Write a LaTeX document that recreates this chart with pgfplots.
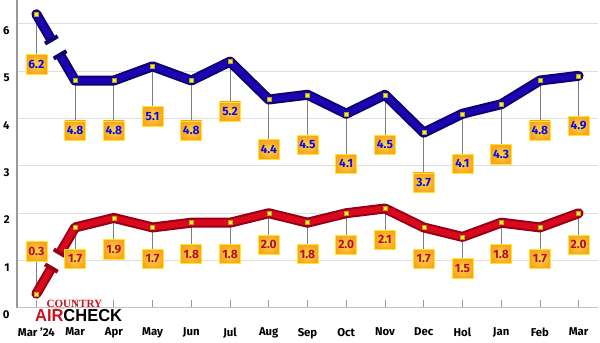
\documentclass[border=0pt]{standalone}
\usepackage{pgfplots}
\pgfplotsset{compat=1.18}
\usepackage{pgfplotstable}
\usepackage{fontspec}
\setmainfont{Fira Sans}
\newfontfamily\logofont{Liberation Sans}
\newfontfamily\logoserif{Liberation Serif}
\usetikzlibrary{calc}
\definecolor{navy}{RGB}{28,4,180}
\definecolor{navydark}{RGB}{14,2,110}
\definecolor{redl}{RGB}{218,8,28}
\definecolor{redd}{RGB}{150,0,22}
\definecolor{boxout}{RGB}{250,165,30}
\definecolor{boxin}{RGB}{255,215,75}
\definecolor{boxborder}{RGB}{255,230,40}
\definecolor{txtblue}{RGB}{10,10,235}
\definecolor{txtred}{RGB}{175,15,45}
\definecolor{gridc}{RGB}{222,222,222}
\definecolor{logored}{RGB}{200,20,30}

\pgfplotstableread{
x blue red
0 6.2 0.3
1 4.8 1.7
2 4.8 1.9
3 5.1 1.7
4 4.8 1.8
5 5.2 1.8
6 4.4 2.0
7 4.5 1.8
8 4.1 2.0
9 4.5 2.1
10 3.7 1.7
11 4.1 1.5
12 4.3 1.8
13 4.8 1.7
14 4.9 2.0
}\data

\tikzset{
  valbox/.style={anchor=center, inner sep=0pt, minimum width=15.75pt, minimum height=14.5pt,
    draw=boxborder, line width=0.5pt, inner color=boxin, outer color=boxout,
    font=\bfseries\fontsize{9}{10}\selectfont},
}

\begin{document}
\begin{tikzpicture}
\begin{axis}[
  name=ax,
  scale only axis,
  width=435.75pt, height=231pt,
  xmin=-0.5, xmax=14.5, ymin=0, ymax=6.5,
  /pgf/number format/assume math mode=true,
  axis lines=left,
  x axis line style={-, draw=gridc!70!gray, line width=0.75pt},
  y axis line style={-, draw=gray!80, line width=1.1pt},
  xtick={0,...,14},
  xticklabels={Mar '24, Mar, Apr, May, Jun, Jul, Aug, Sep, Oct, Nov, Dec, Hol, Jan, Feb, Mar},
  xtick align=inside,
  major tick length=6pt,
  x tick style={draw=gray!80, line width=0.6pt},
  ytick={0,...,6},
  y tick style={draw=none},
  ymajorgrids,
  grid style={draw=gridc, line width=0.75pt},
  ticklabel style={font=\bfseries\fontsize{8.5}{10}\selectfont, text=black},
  xticklabel style={yshift=-11.5pt},
  yticklabel style={yshift=-5pt, xshift=1pt},
  clip=false,
]
% leader lines (gray)
\addplot[draw=none, mark=none, forget plot, error bars/.cd, y dir=minus, y fixed=1.0, error mark=none, error bar style={draw=gray, line width=0.6pt}] table[x=x, y=blue] {\data};
\addplot[draw=none, mark=none, forget plot, skip coords between index={0}{1}, error bars/.cd, y dir=minus, y fixed=0.6, error mark=none, error bar style={draw=gray, line width=0.6pt}] table[x=x, y=red] {\data};
\addplot[draw=none, mark=none, forget plot, error bars/.cd, y dir=plus, y fixed=0.8, error mark=none, error bar style={draw=gray, line width=0.6pt}] coordinates {(0,0.3)};

% blue line
\addplot[navydark, line width=7.5pt, line cap=round, line join=round, mark=none] table[x=x, y=blue] {\data};
\addplot[navy, line width=4.5pt, line cap=round, line join=round, mark=none] table[x=x, y=blue] {\data};
% red line
\addplot[redd, line width=7.5pt, line cap=round, line join=round, mark=none] table[x=x, y=red] {\data};
\addplot[redl, line width=4.5pt, line cap=round, line join=round, mark=none] table[x=x, y=red] {\data};

% breaks on first segments
\coordinate (A1) at (axis cs:0,6.2);
\coordinate (B1) at (axis cs:1,4.8);
\coordinate (M1) at ($(A1)!0.5!(B1)$);
\draw[white, line width=9.5pt] ($(M1)!5pt!(A1)$) -- ($(M1)!5pt!(B1)$);
\coordinate (P1) at ($(M1)!6.5pt!(A1)$);
\coordinate (Q1) at ($(M1)!6.5pt!(B1)$);
\draw[navydark, line width=3pt] ($(P1)!5.5pt!90:(A1)$) -- ($(P1)!5.5pt!-90:(A1)$);
\draw[navydark, line width=3pt] ($(Q1)!5.5pt!90:(B1)$) -- ($(Q1)!5.5pt!-90:(B1)$);

\coordinate (A2) at (axis cs:0,0.3);
\coordinate (B2) at (axis cs:1,1.7);
\coordinate (M2) at ($(A2)!0.5!(B2)$);
\draw[white, line width=9.5pt] ($(M2)!5pt!(A2)$) -- ($(M2)!5pt!(B2)$);
\coordinate (P2) at ($(M2)!6.5pt!(A2)$);
\coordinate (Q2) at ($(M2)!6.5pt!(B2)$);
\draw[redd, line width=3pt] ($(P2)!5.5pt!90:(A2)$) -- ($(P2)!5.5pt!-90:(A2)$);
\draw[redd, line width=3pt] ($(Q2)!5.5pt!90:(B2)$) -- ($(Q2)!5.5pt!-90:(B2)$);

% markers
\addplot[only marks, mark=square*, mark size=1.5pt, mark options={fill=yellow, draw=yellow!60!black, line width=0.3pt}] table[x=x, y=blue] {\data};
\addplot[only marks, mark=square*, mark size=1.5pt, mark options={fill=yellow, draw=yellow!60!black, line width=0.3pt}] table[x=x, y=red] {\data};

% value boxes
\addplot[only marks, mark=none, nodes near coords={\pgfmathprintnumber[fixed, fixed zerofill, precision=1]{\pgfplotspointmeta}},
  every node near coord/.style={valbox, text=txtblue, yshift=-37.5pt}] table[x=x, y=blue] {\data};
\addplot[only marks, mark=none, skip coords between index={0}{1}, nodes near coords={\pgfmathprintnumber[fixed, fixed zerofill, precision=1]{\pgfplotspointmeta}},
  every node near coord/.style={valbox, text=txtred, yshift=-23.6pt}] table[x=x, y=red] {\data};
\addplot[only marks, mark=none, nodes near coords={\pgfmathprintnumber[fixed, fixed zerofill, precision=1]{\pgfplotspointmeta}},
  every node near coord/.style={valbox, text=txtred, yshift=31.9pt}] coordinates {(0,0.3)};

% logo
\draw[gray!60, line width=0.5pt] ([yshift=-5.8pt]axis cs:0.6,0) ++(35:1.8pt) arc[start angle=35, end angle=145, radius=1.8pt];
\draw[gray!60, line width=0.5pt] ([yshift=-5.8pt]axis cs:0.6,0) ++(35:4pt) arc[start angle=35, end angle=145, radius=4pt];
\draw[gray!60, line width=0.5pt] ([yshift=-5.8pt]axis cs:0.6,0) ++(35:6.2pt) arc[start angle=35, end angle=145, radius=6.2pt];
\fill[white] ([xshift=-35pt, yshift=-11pt]axis cs:1.09,0) rectangle ([xshift=35pt, yshift=-0.5pt]axis cs:1.09,0);
\node[anchor=center, inner sep=0pt, text=logored, font=\logoserif\bfseries\fontsize{8.3}{8}\selectfont] at ([yshift=3.3pt]axis cs:0.98,0) {COUNTRY};
\node[anchor=center, inner sep=0pt, font=\logofont\bfseries\fontsize{13}{13}\selectfont] at ([yshift=-6pt]axis cs:1.09,0) {\scalebox{0.95}[1]{\textcolor{logored}{AIR}CHECK}};
\end{axis}
\pgfresetboundingbox
\path[use as bounding box] ($(ax.south west)+(-12.75pt,-26.25pt)$) rectangle ($(ax.north east)+(1.5pt,0pt)$);
\end{tikzpicture}
\end{document}
